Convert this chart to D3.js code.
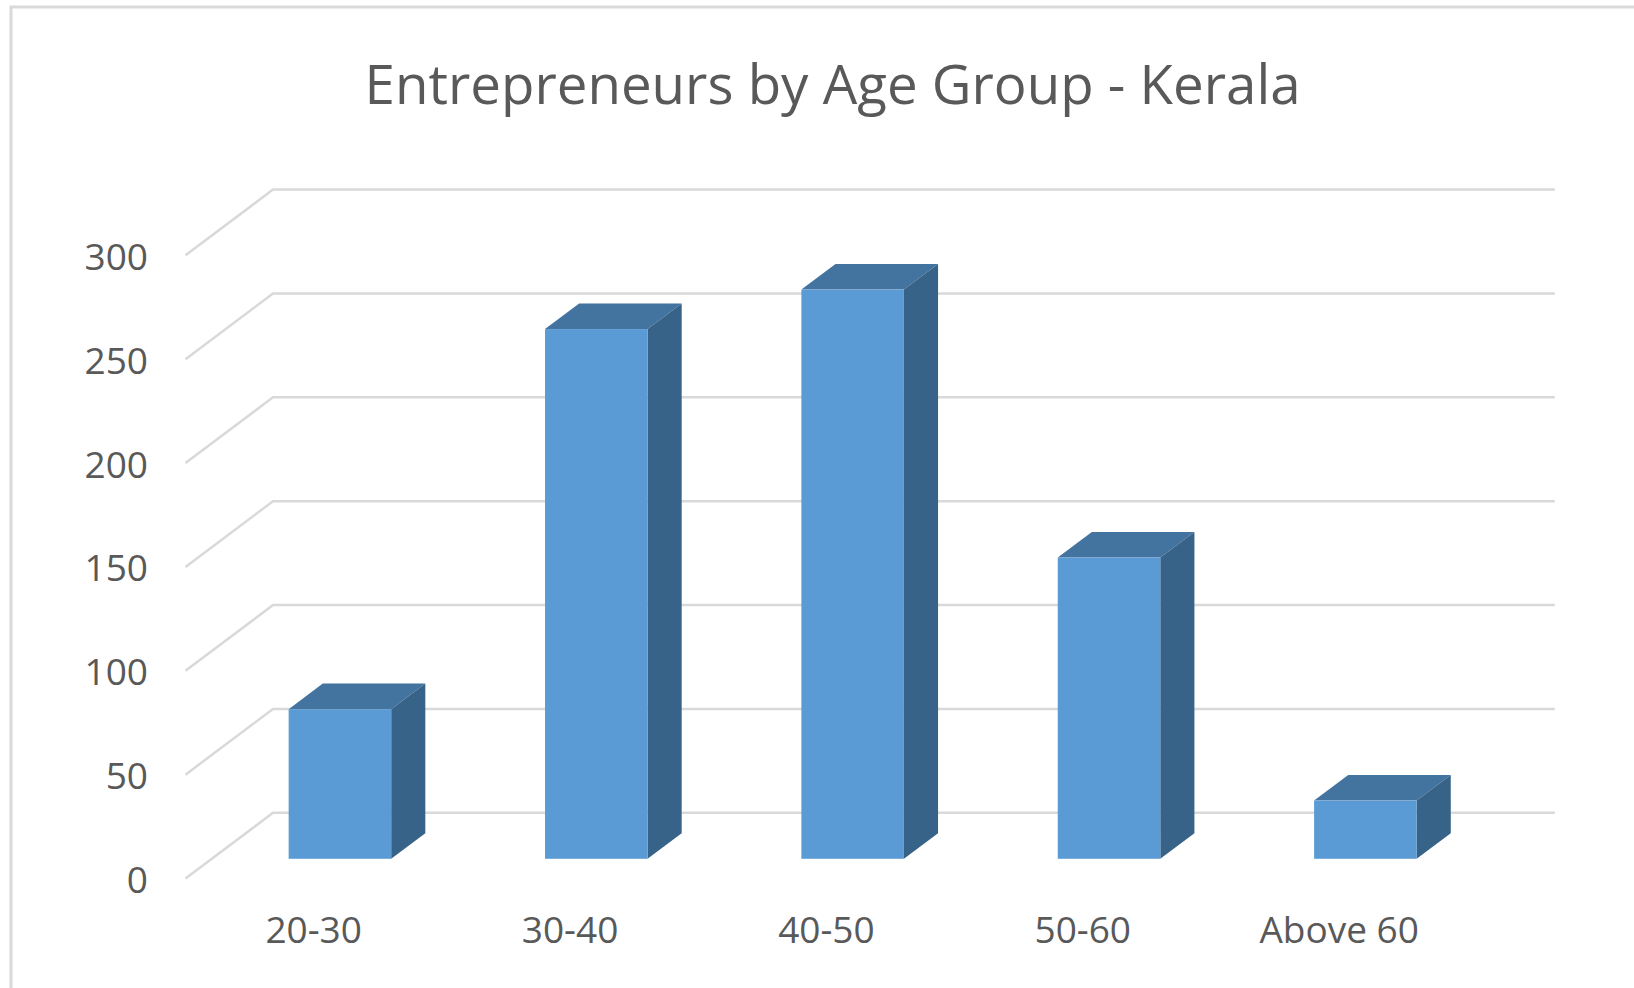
<!DOCTYPE html>
<html>
<head>
<meta charset="utf-8">
<script src="https://d3js.org/d3.v7.min.js"></script>
<style>
  body { margin: 0; background: #fff; }
  text { font-family: "Open Sans", sans-serif; fill: #595959; }
</style>
</head>
<body>
<svg width="1634" height="988"></svg>
<script>
const categories = ['20-30', '30-40', '40-50', '50-60', 'Above 60'];
const values = [72, 255, 274, 145, 28];
const yTicks = [0, 50, 100, 150, 200, 250, 300];
const title = 'Entrepreneurs by Age Group - Kerala';

const width = 1634, height = 988;
// front plane of the 3d box and the depth vector
const x0 = 185.5, x1 = 1467.3;
const yBottom = 878.5, yTop = 255.3;
const depth = { dx: 87.5, dy: -65.7 };
const barFront = 0.3, barDepth = 0.39;

const svg = d3.select('svg');

// chart frame (cropped on the right and bottom)
svg.append('rect')
  .attr('x', 11).attr('y', 7)
  .attr('width', width + 20).attr('height', height + 20)
  .attr('fill', '#fff')
  .attr('stroke', '#d9d9d9')
  .attr('stroke-width', 3);

const x = d3.scaleBand()
  .domain(categories)
  .range([x0, x1])
  .paddingInner(0.6)
  .paddingOuter(0.3);

const y = d3.scaleLinear()
  .domain([0, 300])
  .range([yBottom, yTop]);

// gridlines: left wall diagonal + back wall horizontal
const grid = svg.append('g')
  .attr('stroke', '#d9d9d9')
  .attr('stroke-width', 2.5)
  .attr('fill', 'none');

grid.selectAll('path')
  .data(yTicks)
  .enter()
  .append('path')
  .attr('d', d => `M${x0},${y(d)} L${x0 + depth.dx},${y(d) + depth.dy} L${x1 + depth.dx},${y(d) + depth.dy}`);

// y labels
svg.append('g')
  .selectAll('text')
  .data(yTicks)
  .enter()
  .append('text')
  .attr('x', 148)
  .attr('y', d => y(d))
  .attr('text-anchor', 'end')
  .attr('dominant-baseline', 'central')
  .attr('font-size', 37)
  .text(d => d);

// bars
const bars = svg.append('g')
  .selectAll('g')
  .data(categories.map((c, i) => ({ cat: c, value: values[i] })))
  .enter()
  .append('g');

const fx = barFront * depth.dx, fy = barFront * depth.dy;
const bx = barDepth * depth.dx, by = barDepth * depth.dy;

// top face
bars.append('path')
  .attr('fill', '#43739f')
  .attr('d', d => {
    const l = x(d.cat) + fx, r = l + x.bandwidth(), t = y(d.value) + fy;
    return `M${l},${t} L${l + bx},${t + by} L${r + bx},${t + by} L${r},${t} Z`;
  });

// side face
bars.append('path')
  .attr('fill', '#386388')
  .attr('d', d => {
    const r = x(d.cat) + fx + x.bandwidth(), t = y(d.value) + fy, b = y(0) + fy;
    return `M${r},${t} L${r + bx},${t + by} L${r + bx},${b + by} L${r},${b} Z`;
  });

// front face
bars.append('rect')
  .attr('fill', '#5b9bd5')
  .attr('x', d => x(d.cat) + fx)
  .attr('y', d => y(d.value) + fy)
  .attr('width', x.bandwidth())
  .attr('height', d => y(0) - y(d.value));

// category labels
svg.append('g')
  .selectAll('text')
  .data(categories)
  .enter()
  .append('text')
  .attr('x', d => x(d) + x.bandwidth() / 2)
  .attr('y', 943)
  .attr('text-anchor', 'middle')
  .attr('font-size', 37)
  .text(d => d);

// title
svg.append('text')
  .attr('x', 832.6)
  .attr('y', 104)
  .attr('text-anchor', 'middle')
  .attr('font-size', 55)
  .attr('textLength', 936)
  .attr('lengthAdjust', 'spacingAndGlyphs')
  .text(title);
</script>
</body>
</html>
